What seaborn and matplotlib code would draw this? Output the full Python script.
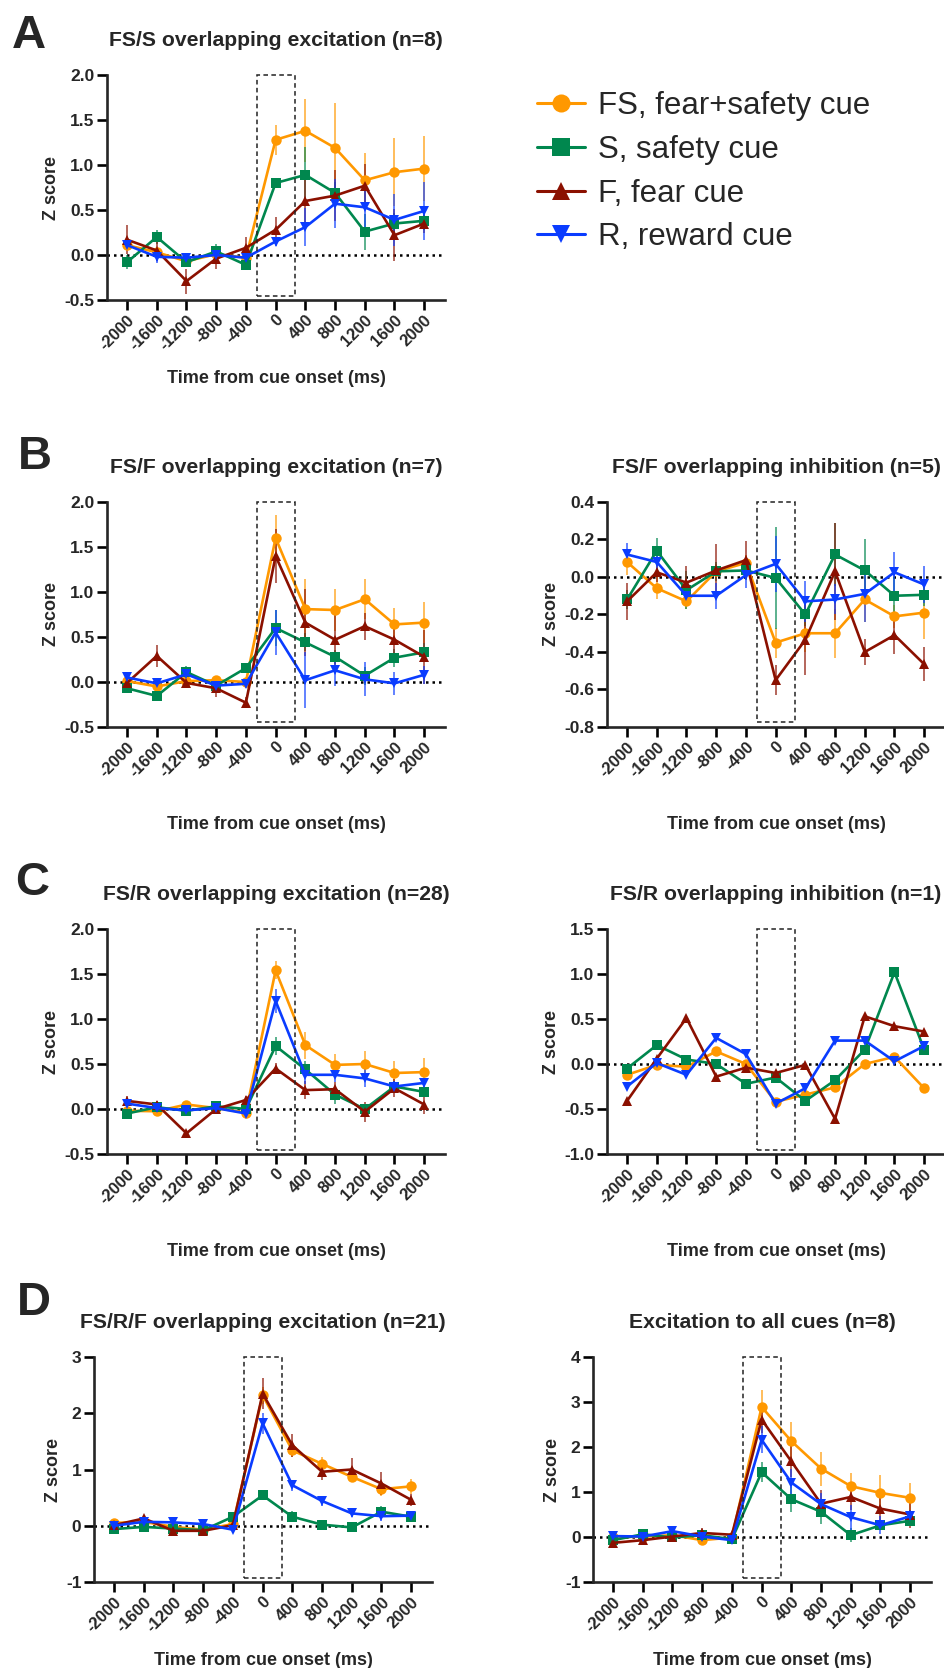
import numpy as np
import pandas as pd
import seaborn as sns
import matplotlib.pyplot as plt
from matplotlib.patches import Rectangle
from matplotlib.lines import Line2D

# time bins (ms from cue onset)
times = [-2000, -1600, -1200, -800, -400, 0, 400, 800, 1200, 1600, 2000]
cues = ['FS, fear+safety cue', 'S, safety cue', 'F, fear cue', 'R, reward cue']
colors = ['#FF9800', '#00874E', '#8B1000', '#0A3CFF']
markers = ['o', 's', '^', 'v']

# A: FS/S overlapping excitation
a_fs = [0.11, 0.03, -0.07, 0.01, -0.03, 1.28, 1.38, 1.19, 0.83, 0.92, 0.96]
a_s = [-0.08, 0.20, -0.08, 0.04, -0.11, 0.80, 0.89, 0.69, 0.26, 0.35, 0.38]
a_f = [0.17, 0.05, -0.29, -0.04, 0.08, 0.28, 0.60, 0.66, 0.77, 0.22, 0.35]
a_r = [0.11, -0.02, -0.03, 0.00, -0.03, 0.15, 0.31, 0.57, 0.53, 0.39, 0.49]
a_fs_sem = [0.04, 0.04, 0.04, 0.03, 0.04, 0.17, 0.35, 0.50, 0.30, 0.38, 0.36]
a_s_sem = [0.08, 0.08, 0.05, 0.08, 0.05, 0.06, 0.31, 0.12, 0.20, 0.12, 0.10]
a_f_sem = [0.16, 0.12, 0.14, 0.11, 0.12, 0.14, 0.30, 0.28, 0.24, 0.29, 0.10]
a_r_sem = [0.05, 0.07, 0.04, 0.04, 0.05, 0.05, 0.21, 0.27, 0.30, 0.29, 0.32]

# B left: FS/F overlapping excitation
bl_fs = [0.01, -0.05, 0.01, 0.02, 0.00, 1.60, 0.81, 0.80, 0.92, 0.64, 0.66]
bl_s = [-0.07, -0.155, 0.11, -0.04, 0.155, 0.60, 0.44, 0.28, 0.07, 0.27, 0.33]
bl_f = [-0.01, 0.29, -0.01, -0.07, -0.23, 1.40, 0.66, 0.47, 0.62, 0.47, 0.28]
bl_r = [0.05, -0.015, 0.085, -0.04, -0.02, 0.55, 0.02, 0.13, 0.03, -0.015, 0.08]
bl_fs_sem = [0.04, 0.04, 0.04, 0.05, 0.04, 0.25, 0.33, 0.23, 0.22, 0.18, 0.23]
bl_s_sem = [0.05, 0.05, 0.07, 0.05, 0.05, 0.20, 0.10, 0.08, 0.10, 0.10, 0.10]
bl_f_sem = [0.06, 0.12, 0.05, 0.10, 0.06, 0.30, 0.37, 0.33, 0.15, 0.15, 0.30]
bl_r_sem = [0.04, 0.06, 0.05, 0.05, 0.05, 0.25, 0.31, 0.17, 0.19, 0.13, 0.10]

# B right: FS/F overlapping inhibition
br_fs = [0.08, -0.06, -0.13, 0.03, 0.075, -0.35, -0.30, -0.30, -0.12, -0.21, -0.19]
br_s = [-0.12, 0.14, -0.07, 0.03, 0.035, -0.005, -0.20, 0.12, 0.035, -0.10, -0.095]
br_f = [-0.13, 0.025, -0.03, 0.035, 0.09, -0.55, -0.335, 0.03, -0.40, -0.31, -0.465]
br_r = [0.12, 0.08, -0.10, -0.10, 0.01, 0.07, -0.13, -0.12, -0.09, 0.025, -0.04]
br_fs_sem = [0.07, 0.06, 0.04, 0.04, 0.04, 0.08, 0.10, 0.13, 0.12, 0.06, 0.14]
br_s_sem = [0.05, 0.07, 0.10, 0.05, 0.05, 0.27, 0.06, 0.17, 0.17, 0.10, 0.06]
br_f_sem = [0.10, 0.05, 0.09, 0.14, 0.10, 0.08, 0.19, 0.26, 0.07, 0.10, 0.09]
br_r_sem = [0.06, 0.05, 0.05, 0.07, 0.07, 0.15, 0.11, 0.08, 0.15, 0.11, 0.10]

# C left: FS/R overlapping excitation
cl_fs = [-0.02, -0.025, 0.05, 0.01, -0.04, 1.54, 0.71, 0.49, 0.50, 0.40, 0.41]
cl_s = [-0.05, 0.02, -0.02, 0.03, 0.00, 0.70, 0.44, 0.16, 0.00, 0.25, 0.19]
cl_f = [0.09, 0.05, -0.27, 0.00, 0.10, 0.45, 0.21, 0.22, -0.03, 0.23, 0.05]
cl_r = [0.06, 0.01, -0.015, 0.01, -0.05, 1.20, 0.38, 0.38, 0.34, 0.25, 0.29]
cl_fs_sem = [0.03, 0.03, 0.03, 0.03, 0.03, 0.10, 0.15, 0.12, 0.14, 0.13, 0.16]
cl_s_sem = [0.04, 0.04, 0.03, 0.03, 0.04, 0.10, 0.09, 0.10, 0.05, 0.06, 0.05]
cl_f_sem = [0.05, 0.04, 0.03, 0.04, 0.04, 0.06, 0.10, 0.08, 0.11, 0.10, 0.11]
cl_r_sem = [0.03, 0.03, 0.03, 0.03, 0.03, 0.13, 0.10, 0.08, 0.10, 0.06, 0.05]

# C right: FS/R overlapping inhibition (n=1, no error bars)
cr_fs = [-0.12, -0.01, -0.03, 0.14, 0.00, -0.42, -0.34, -0.26, 0.00, 0.08, -0.27]
cr_s = [-0.05, 0.21, 0.05, 0.00, -0.22, -0.15, -0.41, -0.18, 0.16, 1.02, 0.16]
cr_f = [-0.41, 0.06, 0.51, -0.14, -0.04, -0.10, -0.01, -0.61, 0.53, 0.42, 0.36]
cr_r = [-0.25, 0.01, -0.12, 0.29, 0.11, -0.44, -0.27, 0.26, 0.26, 0.03, 0.20]

# D left: FS/R/F overlapping excitation
dl_fs = [0.05, 0.07, -0.02, -0.07, 0.03, 2.32, 1.34, 1.10, 0.87, 0.65, 0.70]
dl_s = [-0.06, -0.02, -0.05, -0.08, 0.16, 0.54, 0.16, 0.02, -0.03, 0.25, 0.16]
dl_f = [0.01, 0.13, -0.09, -0.09, 0.01, 2.35, 1.43, 0.96, 1.00, 0.75, 0.46]
dl_r = [0.00, 0.07, 0.06, 0.03, -0.07, 1.82, 0.72, 0.44, 0.22, 0.17, 0.18]
dl_fs_sem = [0.04, 0.04, 0.05, 0.05, 0.04, 0.15, 0.12, 0.13, 0.10, 0.12, 0.13]
dl_s_sem = [0.04, 0.04, 0.04, 0.04, 0.05, 0.09, 0.10, 0.04, 0.04, 0.10, 0.06]
dl_f_sem = [0.05, 0.07, 0.05, 0.05, 0.05, 0.28, 0.20, 0.15, 0.21, 0.20, 0.10]
dl_r_sem = [0.05, 0.05, 0.05, 0.05, 0.05, 0.18, 0.10, 0.08, 0.06, 0.09, 0.09]

# D right: excitation to all cues
dr_fs = [-0.01, 0.01, 0.04, -0.07, -0.01, 2.89, 2.13, 1.52, 1.13, 0.98, 0.87]
dr_s = [-0.07, 0.06, -0.01, 0.04, -0.05, 1.44, 0.84, 0.56, 0.04, 0.26, 0.36]
dr_f = [-0.13, -0.07, 0.01, 0.09, 0.05, 2.61, 1.68, 0.74, 0.89, 0.63, 0.50]
dr_r = [0.02, 0.01, 0.13, 0.01, -0.07, 2.16, 1.21, 0.73, 0.44, 0.26, 0.46]
dr_fs_sem = [0.06, 0.06, 0.06, 0.06, 0.05, 0.37, 0.42, 0.38, 0.30, 0.39, 0.33]
dr_s_sem = [0.06, 0.06, 0.05, 0.05, 0.05, 0.22, 0.28, 0.27, 0.15, 0.10, 0.12]
dr_f_sem = [0.10, 0.10, 0.08, 0.10, 0.06, 0.30, 0.35, 0.30, 0.30, 0.25, 0.30]
dr_r_sem = [0.06, 0.06, 0.08, 0.06, 0.06, 0.30, 0.30, 0.25, 0.28, 0.20, 0.15]

sns.set_style('ticks')
plt.rcParams['font.family'] = ['Liberation Sans', 'DejaVu Sans']
plt.rcParams['axes.unicode_minus'] = False

fig = plt.figure(figsize=(9.44, 16.68), dpi=100)
W, H = 944, 1668


def make_ax(left, top, width=338, height=225):
    return fig.add_axes([left / W, 1 - (top + height) / H, width / W, height / H])


def draw_panel(ax, means, sems, title, ylim, yticks, yfmt, xpad=12):
    df = pd.DataFrame({
        'time': np.tile(times, 4),
        'z': np.concatenate(means),
        'cue': np.repeat(cues, len(times)),
    })
    # error bars first so lines/markers sit on top
    if sems is not None:
        for m, s, c in zip(means, sems, colors):
            ax.errorbar(times, m, yerr=s, fmt='none', ecolor=c, elinewidth=1.2,
                        alpha=0.75, capsize=0, zorder=1)
    ax.axhline(0, color='black', lw=1.8, ls=(0, (1, 1.6)), zorder=0.5)
    sns.lineplot(data=df, x='time', y='z', hue='cue', style='cue',
                 hue_order=cues, style_order=cues, palette=colors,
                 markers=dict(zip(cues, markers)), dashes=False,
                 markersize=7.5, markeredgewidth=0, linewidth=1.9,
                 legend=False, ax=ax, zorder=2)
    lo, hi = ylim
    rng = hi - lo
    box_lo = lo + 0.02 * rng
    ax.add_patch(Rectangle((-255, box_lo), 510, hi - box_lo, fill=False,
                           ec='#222222', lw=1.1, ls=(0, (3, 2.2)), zorder=3,
                           clip_on=False))
    ax.set_xlim(-2270, 2280)
    ax.set_ylim(lo, hi)
    ax.set_xticks(times)
    ax.set_xticklabels([str(t) for t in times], rotation=45, ha='right',
                       rotation_mode='anchor', fontsize=12, fontweight='bold')
    ax.set_yticks(yticks)
    ax.set_yticklabels([yfmt.format(v) for v in yticks], fontsize=12.5,
                       fontweight='bold')
    ax.set_xlabel('Time from cue onset (ms)', fontsize=13, fontweight='bold',
                  labelpad=xpad)
    ax.set_ylabel('Z score', fontsize=13, fontweight='bold', labelpad=3)
    ax.set_title(title, fontsize=15.2, fontweight='bold', pad=21)
    for sp in ['top', 'right']:
        ax.spines[sp].set_visible(False)
    for sp in ['left', 'bottom']:
        ax.spines[sp].set_linewidth(1.9)
    ax.tick_params(axis='both', width=1.9, length=7, color='black', pad=2)


ex_ticks = [-0.5, 0.0, 0.5, 1.0, 1.5, 2.0]

axA = make_ax(107, 75)
draw_panel(axA, [a_fs, a_s, a_f, a_r], [a_fs_sem, a_s_sem, a_f_sem, a_r_sem],
           'FS/S overlapping excitation (n=8)', (-0.5, 2.0), ex_ticks, '{:.1f}',
           xpad=12)

axBl = make_ax(107, 502)
draw_panel(axBl, [bl_fs, bl_s, bl_f, bl_r],
           [bl_fs_sem, bl_s_sem, bl_f_sem, bl_r_sem],
           'FS/F overlapping excitation (n=7)', (-0.5, 2.0), ex_ticks, '{:.1f}',
           xpad=26)

axBr = make_ax(607, 502)
draw_panel(axBr, [br_fs, br_s, br_f, br_r],
           [br_fs_sem, br_s_sem, br_f_sem, br_r_sem],
           'FS/F overlapping inhibition (n=5)', (-0.8, 0.4),
           [-0.8, -0.6, -0.4, -0.2, 0.0, 0.2, 0.4], '{:.1f}', xpad=26)

axCl = make_ax(107, 929)
draw_panel(axCl, [cl_fs, cl_s, cl_f, cl_r],
           [cl_fs_sem, cl_s_sem, cl_f_sem, cl_r_sem],
           'FS/R overlapping excitation (n=28)', (-0.5, 2.0), ex_ticks, '{:.1f}',
           xpad=26)

axCr = make_ax(607, 929)
draw_panel(axCr, [cr_fs, cr_s, cr_f, cr_r], None,
           'FS/R overlapping inhibition (n=1)', (-1.0, 1.5),
           [-1.0, -0.5, 0.0, 0.5, 1.0, 1.5], '{:.1f}', xpad=26)

axDl = make_ax(94, 1357)
draw_panel(axDl, [dl_fs, dl_s, dl_f, dl_r],
           [dl_fs_sem, dl_s_sem, dl_f_sem, dl_r_sem],
           'FS/R/F overlapping excitation (n=21)', (-1, 3), [-1, 0, 1, 2, 3],
           '{:d}', xpad=12)

axDr = make_ax(593, 1357)
draw_panel(axDr, [dr_fs, dr_s, dr_f, dr_r],
           [dr_fs_sem, dr_s_sem, dr_f_sem, dr_r_sem],
           'Excitation to all cues (n=8)', (-1, 4), [-1, 0, 1, 2, 3, 4], '{:d}',
           xpad=12)

# panel letters
for letter, x, y in [('A', 12, 48), ('B', 18, 469), ('C', 15, 895), ('D', 17, 1315)]:
    fig.text(x / W, 1 - y / H, letter, fontsize=34, fontweight='bold',
             ha='left', va='baseline')

# legend
handles = [Line2D([0], [0], color=c, marker=m, lw=2.2, markersize=13,
                  markeredgewidth=0) for c, m in zip(colors, markers)]
fig.legend(handles, cues, loc='upper left',
           bbox_to_anchor=(537 / W, 1 - 91 / H), frameon=False, fontsize=22.5,
           handlelength=1.55, handletextpad=0.4, labelspacing=0.44,
           borderaxespad=0, borderpad=0)

fig.savefig('out.png', dpi=100)
